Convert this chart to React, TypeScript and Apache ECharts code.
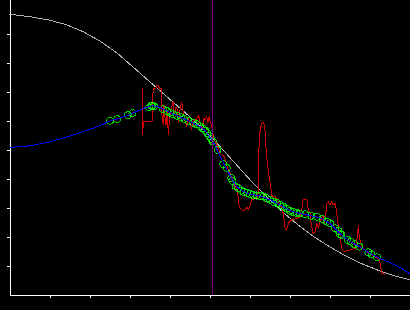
import React, { useEffect, useRef } from "react";
import * as echarts from "echarts";

// x ticks / y ticks (no labels shown)
const xTicks = [1, 2, 3, 4, 5, 6, 7, 8, 9];
const yTicks = [1, 2, 3, 4, 5, 6, 7, 8, 9];

// vertical marker position
const markerX = 5.06;

// grey reference curve
const greyX = [-0.25, 0, 0.5, 1, 1.425, 1.825, 2.25, 2.675, 3.075, 3.5, 4, 4.5, 5, 5.375, 5.75, 6.125, 6.5, 6.875, 7.25, 7.625, 8, 8.375, 8.75, 9.25, 9.625, 10];
const greyY = [9.714, 9.679, 9.593, 9.472, 9.31, 9.079, 8.752, 8.345, 7.862, 7.345, 6.741, 6.138, 5.483, 4.931, 4.352, 3.783, 3.266, 2.793, 2.362, 1.983, 1.655, 1.362, 1.103, 0.828, 0.655, 0.524];

// blue fitted curve
const blueX = [0, 0.5, 1, 1.5, 2, 2.25, 2.5, 2.75, 3, 3.325, 3.55, 3.75, 4, 4.25, 4.5, 4.75, 4.875, 5, 5.125, 5.25, 5.375, 5.5, 5.65, 5.8, 6, 6.25, 6.5, 6.75, 7, 7.25, 7.5, 7.75, 8, 8.25, 8.5, 8.75, 9, 9.25, 9.55, 9.8, 10];
const blueY = [5.09, 5.14, 5.28, 5.48, 5.71, 5.84, 6.0, 6.1, 6.22, 6.43, 6.53, 6.47, 6.29, 6.14, 5.98, 5.81, 5.67, 5.43, 5.17, 4.79, 4.45, 4.12, 3.76, 3.59, 3.48, 3.41, 3.29, 3.1, 2.91, 2.81, 2.74, 2.66, 2.47, 2.12, 1.84, 1.66, 1.43, 1.26, 1.09, 0.91, 0.72];

// green sample points
const greenX = [2.5, 2.68, 2.95, 3.06, 3.48, 3.53, 3.56, 3.6, 3.83, 3.92, 4.0, 4.08, 4.17, 4.27, 4.36, 4.46, 4.58, 4.67, 4.75, 4.82, 4.88, 4.93, 4.98, 5.03, 5.07, 5.19, 5.33, 5.42, 5.53, 5.56, 5.65, 5.7, 5.78, 5.85, 5.93, 6.0, 6.08, 6.17, 6.25, 6.33, 6.42, 6.5, 6.58, 6.68, 6.75, 6.83, 6.92, 7.0, 7.08, 7.17, 7.25, 7.38, 7.53, 7.67, 7.81, 7.92, 8.0, 8.13, 8.21, 8.25, 8.29, 8.44, 8.52, 8.61, 8.73, 8.96, 9.04, 9.18];
const greenY = [6.01, 6.06, 6.2, 6.27, 6.47, 6.52, 6.53, 6.5, 6.4, 6.34, 6.29, 6.23, 6.18, 6.13, 6.07, 6.01, 5.94, 5.88, 5.81, 5.74, 5.67, 5.58, 5.48, 5.38, 5.29, 5.0, 4.51, 4.38, 4.03, 3.94, 3.74, 3.69, 3.6, 3.55, 3.52, 3.48, 3.45, 3.43, 3.41, 3.4, 3.33, 3.29, 3.22, 3.17, 3.1, 3.05, 2.98, 2.91, 2.86, 2.83, 2.81, 2.78, 2.73, 2.7, 2.62, 2.53, 2.47, 2.3, 2.21, 2.1, 2.07, 1.9, 1.84, 1.75, 1.67, 1.47, 1.4, 1.3];

// red raw measurements
const redX = [3.31, 3.31, 3.34, 3.55, 3.56, 3.58, 3.65, 3.66, 3.71, 3.73, 3.79, 3.8, 3.83, 3.85, 3.88, 3.9, 3.93, 3.96, 3.99, 4.04, 4.08, 4.11, 4.15, 4.19, 4.21, 4.25, 4.29, 4.33, 4.38, 4.42, 4.45, 4.5, 4.54, 4.58, 4.63, 4.67, 4.71, 4.75, 4.79, 4.83, 4.85, 4.88, 4.92, 4.94, 4.98, 5.01, 5.04, 5.08, 5.13, 5.18, 5.21, 5.25, 5.3, 5.36, 5.42, 5.46, 5.5, 5.55, 5.58, 5.63, 5.67, 5.71, 5.73, 5.79, 5.88, 5.92, 5.96, 6.0, 6.04, 6.13, 6.19, 6.21, 6.23, 6.26, 6.29, 6.33, 6.36, 6.38, 6.4, 6.44, 6.46, 6.5, 6.54, 6.58, 6.63, 6.68, 6.75, 6.79, 6.83, 6.88, 6.92, 6.96, 7.04, 7.13, 7.2, 7.25, 7.3, 7.33, 7.38, 7.42, 7.46, 7.5, 7.54, 7.58, 7.63, 7.67, 7.71, 7.75, 7.79, 7.82, 7.86, 7.88, 7.92, 7.96, 8.0, 8.04, 8.08, 8.13, 8.17, 8.21, 8.25, 8.29, 8.33, 8.5, 8.63, 8.68, 8.71, 8.73, 8.79, 8.88, 8.96, 9.04, 9.17, 9.23, 9.26, 9.29, 9.38];
const redY = [7.13, 5.52, 5.98, 5.98, 6.38, 7.13, 7.13, 7.22, 7.22, 7.13, 7.13, 6.21, 5.86, 6.55, 6.03, 5.86, 6.31, 5.52, 6.1, 6.48, 6.67, 6.21, 6.48, 6.38, 5.93, 6.38, 6.66, 6.31, 5.97, 5.8, 6.1, 5.93, 5.69, 6.03, 6.0, 6.1, 6.21, 5.97, 5.76, 5.8, 6.1, 6.03, 6.15, 5.92, 6.15, 5.93, 5.86, 5.52, 5.29, 5.14, 5.06, 4.89, 4.83, 4.77, 4.48, 4.31, 4.2, 4.03, 3.91, 3.76, 3.62, 3.33, 3.04, 2.93, 2.93, 3.04, 2.93, 3.1, 3.28, 3.33, 3.34, 3.62, 5.52, 5.69, 5.92, 5.97, 5.86, 5.63, 5.06, 4.48, 4.2, 3.91, 3.45, 3.38, 3.39, 3.28, 3.1, 3.03, 2.82, 2.3, 2.27, 2.47, 2.59, 2.62, 2.66, 2.7, 3.0, 3.28, 3.3, 3.28, 2.93, 2.82, 2.36, 2.13, 2.18, 2.47, 2.3, 2.53, 2.64, 2.76, 2.48, 2.59, 3.16, 3.22, 3.1, 3.22, 3.1, 3.16, 2.82, 2.36, 2.07, 1.61, 1.49, 1.55, 1.61, 1.96, 2.41, 2.01, 1.67, 1.55, 1.44, 1.38, 1.28, 1.21, 1.03, 0.75, 0.71];

const zip = (xs: number[], ys: number[]) => xs.map((x, i) => [x, ys[i]]);

export default function App() {
  const ref = useRef<HTMLDivElement>(null);
  useEffect(() => {
    document.body.style.margin = "0";
    document.body.style.background = "#000";
    const chart = echarts.init(ref.current!, null, { renderer: "svg" });
    chart.setOption({
      animation: false,
      backgroundColor: "#000000",
      grid: { left: 10, right: 0, top: 0, bottom: 15 },
      xAxis: {
        type: "value",
        min: 0,
        max: 10,
        axisLine: { show: true, onZero: false, lineStyle: { color: "#ffffff", width: 1 } },
        axisTick: { show: true, length: 3, customValues: xTicks, lineStyle: { color: "#ffffff", width: 1 } },
        axisLabel: { show: false },
        splitLine: { show: false },
      },
      yAxis: {
        type: "value",
        min: 0,
        max: 10.17,
        axisLine: { show: true, onZero: false, lineStyle: { color: "#ffffff", width: 1 } },
        axisTick: { show: true, length: 3, customValues: yTicks, lineStyle: { color: "#ffffff", width: 1 } },
        axisLabel: { show: false },
        splitLine: { show: false },
      },
      series: [
        {
          type: "line",
          data: zip(greyX, greyY),
          smooth: false,
          clip: false,
          showSymbol: false,
          lineStyle: { color: "#b0b0b0", width: 1 },
          z: 1,
        },
        {
          type: "line",
          data: zip(redX, redY),
          showSymbol: false,
          lineStyle: { color: "#d00000", width: 1 },
          z: 2,
          markLine: {
            silent: true,
            symbol: "none",
            label: { show: false },
            lineStyle: { color: "#800080", width: 1, type: "solid" },
            data: [{ xAxis: markerX }],
          },
        },
        {
          type: "scatter",
          data: zip(greenX, greenY),
          symbol: "circle",
          symbolSize: 7,
          itemStyle: { color: "rgba(0,0,0,0)", borderColor: "#00ff00", borderWidth: 1 },
          z: 3,
        },
        {
          type: "line",
          data: zip(blueX, blueY),
          smooth: false,
          showSymbol: false,
          lineStyle: { color: "#0000ff", width: 1 },
          z: 4,
        },
      ],
    });
    const svg = ref.current!.querySelector("svg");
    if (svg) svg.setAttribute("shape-rendering", "crispEdges");
    return () => chart.dispose();
  }, []);
  return (
    <div
      ref={ref}
      style={{ position: "absolute", left: 0, top: 0, width: 410, height: 310 }}
    />
  );
}
